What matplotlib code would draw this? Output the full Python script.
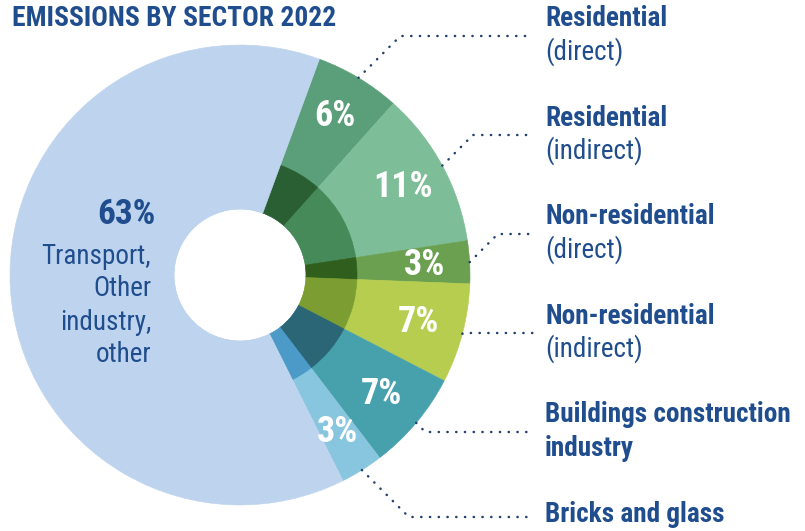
import numpy as np
import matplotlib
matplotlib.use('Agg')
import matplotlib.pyplot as plt
from matplotlib import font_manager

####################################################################################

W, H = 805, 531
DPI = 100

NAVY = '#1f4d8d'
DOT_RGB = '#23406f'

_names = {f.name for f in font_manager.fontManager.ttflist}
COND = 'Roboto Condensed' if 'Roboto Condensed' in _names else \
       ('Liberation Sans Narrow' if 'Liberation Sans Narrow' in _names else 'Roboto')

# data
shares = [6, 11, 3, 7, 7, 3, 63]
pct_labels = ['6%', '11%', '3%', '7%', '7%', '3%', '63%']
sector_bold = ['Residential', 'Residential', 'Non-residential', 'Non-residential',
               'Buildings construction\nindustry', 'Bricks and glass']
sector_sub = ['(direct)', '(indirect)', '(direct)', '(indirect)', '', '']
rest_label = 'Transport,\nOther\nindustry,\nother'

outer_colors = ['#5a9f79', '#7dbd97', '#6aa050', '#b6cd4f', '#47a1ad', '#87c6de', '#bed4ee']
inner_colors = ['#2a5f33', '#468a59', '#2f5e1d', '#7b9d31', '#2b6677', '#4b9ac8', '#bed4ee']

####################################################################################

CX, CY = 240, 275          # centre, pixel coords (y down)
R_OUT, R_MID, R_HOLE = 230, 117, 66
START = 69.8
LABEL_X = 545
LINE_END_X = 533
LINE_STEP = 33
label_top_y = [19, 118, 217, 316, 415, 514]

def py(y):
    return H - y

figure = plt.figure(figsize=(W / DPI, H / DPI), dpi=DPI, facecolor='white')
axes = figure.add_axes([0, 0, 1, 1])

outer, _ = axes.pie(shares, colors=outer_colors, radius=R_OUT, center=(CX, py(CY)),
                    startangle=START, counterclock=False,
                    wedgeprops=dict(width=R_OUT - R_HOLE, linewidth=0.4))
inner, _ = axes.pie(shares, colors=inner_colors, radius=R_MID, center=(CX, py(CY)),
                    startangle=START, counterclock=False,
                    wedgeprops=dict(width=R_MID - R_HOLE, linewidth=0.4))
for w in list(outer) + list(inner):
    w.set_edgecolor(w.get_facecolor())

axes.set_xlim(0, W)
axes.set_ylim(0, H)
axes.set_aspect('auto')
axes.axis('off')

# mid angles of wedges
bounds = START - np.cumsum([0] + shares) * 3.6
mids = (bounds[:-1] + bounds[1:]) / 2

for i in range(6):
    a = np.deg2rad(mids[i])
    axes.text(CX + 185 * np.cos(a), py(CY) + 185 * np.sin(a), pct_labels[i],
              color='white', fontsize=26, fontweight='bold', family=COND,
              ha='center', va='center')

    # leader line
    sx = CX + R_OUT * np.cos(a)
    sy = CY - R_OUT * np.sin(a)
    hy = label_top_y[i] + (17 if i < 5 else 3)
    ex = sx + abs(hy - sy)
    axes.plot([sx, ex, LINE_END_X], [py(sy), py(hy), py(hy)], color=DOT_RGB,
              linewidth=1.8, linestyle=(0, (0.1, 3.4)), dash_capstyle='round',
              solid_capstyle='round')

    lines = [(s, 'bold') for s in sector_bold[i].split('\n')]
    if sector_sub[i]:
        lines.append((sector_sub[i], 'normal'))
    for k, (s, wt) in enumerate(lines):
        axes.text(LABEL_X, py(label_top_y[i] + k * LINE_STEP), s, color=NAVY,
                  fontsize=19.6 if wt == 'bold' else 19.5, fontweight=wt, family=COND,
                  ha='left', va='center')

axes.text(155, py(215), pct_labels[6], color=NAVY, fontsize=25.5, fontweight='bold',
          family=COND, ha='right', va='center')
for k, s in enumerate(rest_label.split('\n')):
    axes.text(151, py(256 + k * LINE_STEP), s, color=NAVY, fontsize=19.5,
              family=COND, ha='right', va='center')

axes.text(12, py(18), 'EMISSIONS BY SECTOR 2022', color=NAVY, fontsize=19.8,
          fontweight='bold', family=COND, ha='left', va='center')

plt.savefig('out.png', dpi=DPI, facecolor='white')
